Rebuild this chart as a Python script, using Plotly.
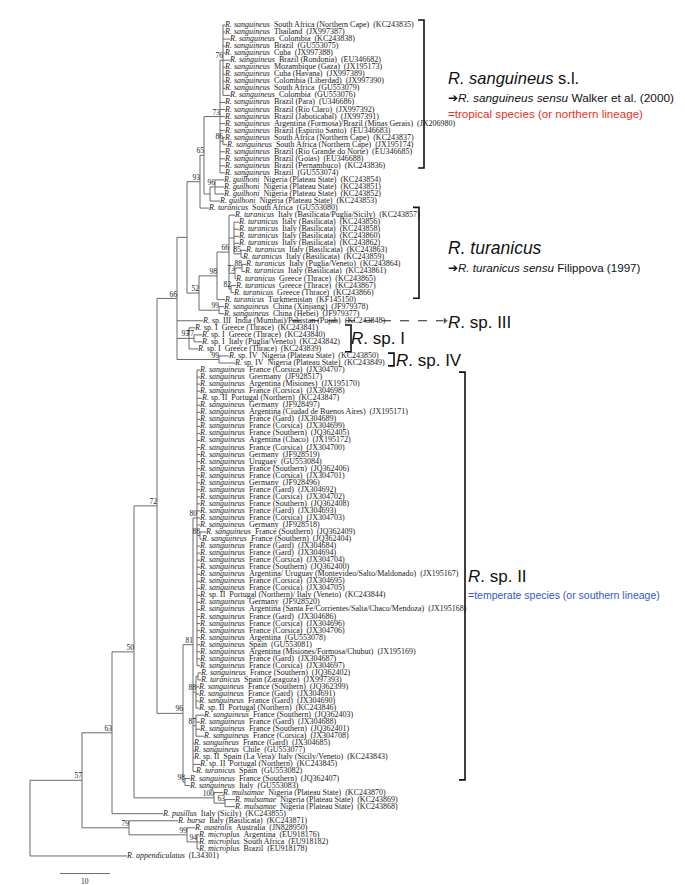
import plotly.graph_objects as go

# tree: leaf names are row numbers, internal labels are bootstrap values,
# branch lengths in substitutions units (scale bar = 10)
newick = """
((
 (
  (
   (
    (
     (
      (
       (
        ((1:0.4,2:0.4,3:1.4,4:0.4,5:0.4,6:1.4,7:0.4,8:0.4,9:0.4,10:0.4,11:1.4)76:0.6,
         12:1,13:1,14:1,15:1,16:1,(17:0.4,18:0.8)86:0.6,19:1,20:1,21:1,22:1)73:3.2,
        ((23:1.8,24:1.8,25:1.8)96:1,26:2):1.2
       )65:0.8,
       27:1.8
      )93:2.6,
      (
       (
        (28:1.2,(29:1,30:1,31:1,32:1,(33:1,34:0.4)85:1.4):1,((35:0.8,36:0.6)88:1.4,37:0.2)73:1.2,(38:1,39:0.6)82:0.4)66:2.4,
        40:1.6
       )98:3.6,
       (41:1,42:1)99:4
      )52:2.4
     ):2,
     43:5.2,
     (44:1.2,(45:1.6,46:1.6)77:1,47:1.8)93:2.4,
     (48:2,49:3.2)99:8.4
    )66:4,
    (
     (
      (50:0.6,51:0.6,52:0.6,53:0.6,54:1,55:0.6,56:0.6,57:0.6,58:0.6,59:0.6,60:0.6,61:0.6,62:0.6,
       63:0.6,64:0.6,65:0.6,66:0.6,67:0.6,68:0.6,69:0.6,70:0.6,71:0.6,72:0.6,(73:1.2,74:0.4)88:0.6,
       75:0.6,76:0.6,77:0.6,78:0.6,79:0.6,80:0.6,81:0.6,82:0.6,83:0.6,84:0.6,85:0.6,86:0.6,87:0.6,
       88:0.6,89:0.6,90:0.6,91:0.6,92:0.6)80:0.8,
      ((93:0.6,94:0.6):0.4,95:0.6,96:0.6,97:0.6,98:0.6)88:0.6,
      (99:1.6,100:0.8,101:0.8,102:1.6)87:0.6,
      103:0.2,104:0.2,105:0.2,106:1.4,107:0.6
     )81:2
    ,(108:1,109:1)98:0.4
    )96:5.2
   )72:4.6,
   (110:1.8,(111:2,112:2)63:2.2)100:16
  )50:4.4,
  113:10.2
 )63:6,
 (114:9.8,(115:1.6,(116:0.4,117:0.4,118:0.4)94:2)99:11.6)79:9.4
)57:10.4,
119:19.4):2.2,
120:45)
"""

species = (["R. sanguineus"] * 22 + ["R. guilhoni"] * 4 + ["R. turanicus"] * 14
           + ["R. sanguineus"] * 2 + ["R. sp. III"] + ["R. sp. I"] * 4 + ["R. sp. IV"] * 2
           + ["R. sanguineus"] * 4 + ["R. sp. II"] + ["R. sanguineus"] * 27 + ["R. sp. II"]
           + ["R. sanguineus"] * 11 + ["R. turanicus"] + ["R. sanguineus"] * 3 + ["R. sp. II"]
           + ["R. sanguineus"] * 6 + ["R. sp. II"] * 2 + ["R. turanicus"] + ["R. sanguineus"] * 2
           + ["R. mulsamae"] * 3 + ["R. pusillus", "R. bursa", "R. australis"]
           + ["R. microplus"] * 3 + ["R. appendiculatus", "I. ricinus"])

places = [
    "South Africa (Northern Cape)", "Thailand", "Colombia", "Brazil", "Cuba",
    "Brazil (Rondonia)", "Mozambique (Gaza)", "Cuba (Havana)", "Colombia (Liberdad)", "South Africa",
    "Colombia", "Brazil (Para)", "Brazil (Rio Claro)", "Brazil (Jaboticabal)",
    "Argentina (Formosa)/Brazil (Minas Gerais)", "Brazil (Espirito Santo)",
    "South Africa (Northern Cape)", "South Africa (Northern Cape)", "Brazil (Rio Grande do Norte)",
    "Brazil (Goias)", "Brazil (Pernambuco)", "Brazil",
    "Nigeria (Plateau State)", "Nigeria (Plateau State)", "Nigeria (Plateau State)", "Nigeria (Plateau State)",
    "South Africa", "Italy (Basilicata/Puglia/Sicily)", "Italy (Basilicata)", "Italy (Basilicata)",
    "Italy (Basilicata)", "Italy (Basilicata)", "Italy (Basilicata)", "Italy (Basilicata)",
    "Italy (Puglia/Veneto)", "Italy (Basilicata)", "Greece (Thrace)", "Greece (Thrace)", "Greece (Thrace)",
    "Turkmenistan", "China (Xinjiang)", "China (Hebei)", "India (Mumbai)/Pakistan (Pujab)",
    "Greece (Thrace)", "Greece (Thrace)", "Italy (Puglia/Veneto)", "Greece (Thrace)",
    "Nigeria (Plateau State)", "Nigeria (Plateau State)",
    "France (Corsica)", "Grermany", "Argentina (Misiones)", "France (Corsica)", "Portugal (Northern)",
    "Germany", "Argentina (Ciudad de Buenos Aires)", "France (Gard)", "France (Corsica)",
    "France (Southern)", "Argentina (Chaco)", "France (Corsica)", "Germany", "Uruguay",
    "France (Southern)", "France (Corsica)", "Germany", "France (Gard)", "France (Corsica)",
    "France (Southern)", "France (Gard)", "France (Corsica)", "Germany", "France (Southern)",
    "France (Southern)", "France (Gard)", "France (Gard)", "France (Corsica)", "France (Southern)",
    "Argentina/ Uruguay (Montevideo/Salto/Maldonado)", "France (Corsica)", "France (Corsica)",
    "Portugal (Northern)/ Italy (Veneto)", "Germany",
    "Argentina (Santa Fe/Corrientes/Salta/Chaco/Mendoza)", "France (Gard)", "France (Corsica)",
    "France (Corsica)", "Argentina", "Spain", "Argentina (Misiones/Formosa/Chubut)", "France (Gard)",
    "France (Corsica)", "France (Southern)", "Spain (Zaragoza)", "France (Southern)", "France (Gard)",
    "France (Gard)", "Portugal (Northern)", "France (Southern)", "France (Gard)", "France (Southern)",
    "France (Corsica)", "France (Gard)", "Chile", "Spain (La Vera)/ Italy (Sicily/Veneto)",
    "Portugal (Northern)", "Spain", "France (Southern)", "Italy",
    "Nigeria (Plateau State)", "Nigeria (Plateau State)", "Nigeria (Plateau State)",
    "Italy (Sicily)", "Italy (Basilicata)", "Australia", "Argentina", "South Africa", "Brazil",
    "", "Germany",
]

accessions = [
    "KC243835", "JX997387", "KC243838", "GU553075", "JX997388", "EU346682", "JX195173", "JX997389",
    "JX997390", "GU553079", "GU553076", "U346686", "JX997392", "JX997391", "JX206980", "EU346683",
    "KC243837", "JX195174", "EU346685", "EU346688", "KC243836", "GU553074",
    "KC243854", "KC243851", "KC243852", "KC243853", "GU553080", "KC243857", "KC243856", "KC243858",
    "KC243860", "KC243862", "KC243863", "KC243859", "KC243864", "KC243861", "KC243865", "KC243867",
    "KC243866", "KF145150", "JF979378", "JF979377", "KC243848", "KC243841", "KC243840", "KC243842",
    "KC243839", "KC243850", "KC243849",
    "JX304707", "JF928517", "JX195170", "JX304698", "KC243847", "JF928497", "JX195171", "JX304689",
    "JX304699", "JQ362405", "JX195172", "JX304700", "JF928519", "GU553084", "JQ362406", "JX304701",
    "JF928496", "JX304692", "JX304702", "JQ362408", "JX304693", "JX304703", "JF928518", "JQ362409",
    "JQ362404", "JX304684", "JX304694", "JX304704", "JQ362400", "JX195167", "JX304695", "JX304705",
    "KC243844", "JF928520", "JX195168", "JX304686", "JX304696", "JX304706", "GU553078", "GU553081",
    "JX195169", "JX304687", "JX304697", "JQ362402", "JX997393", "JQ362399", "JX304691", "JX304690",
    "KC243846", "JQ362403", "JX304688", "JQ362401", "JX304708", "JX304685", "GU553077", "KC243843",
    "KC243845", "GU553082", "JQ362407", "GU553083", "KC243870", "KC243869", "KC243868", "KC243855",
    "KC243871", "JN828950", "EU918176", "EU918182", "EU918178", "L34301", "JF928527",
]

scale_len = 10

sp = "\u00a0\u00a0"


def parse(s):
    s = "".join(s.split())
    pos = 0

    def node():
        nonlocal pos
        children = []
        if s[pos] == "(":
            pos += 1
            while True:
                children.append(node())
                if s[pos] == ",":
                    pos += 1
                    continue
                pos += 1
                break
        start = pos
        while pos < len(s) and s[pos] not in ",():;":
            pos += 1
        label = s[start:pos]
        bl = 0.0
        if pos < len(s) and s[pos] == ":":
            pos += 1
            start = pos
            while pos < len(s) and s[pos] not in ",();":
                pos += 1
            bl = float(s[start:pos])
        return {"label": label, "bl": bl, "children": children}

    return node()


def place(n, x0):
    n["x"] = x0 + n["bl"]
    if not n["children"]:
        n["y"] = int(n["label"])
    else:
        for c in n["children"]:
            place(c, n["x"])
        n["y"] = (n["children"][0]["y"] + n["children"][-1]["y"]) / 2


tree = parse(newick)
tree["bl"] = 0
place(tree, 0)

lx, ly = [], []
tips, boots = [], []


def walk(n):
    if not n["children"]:
        tips.append(n)
        return
    ys = [c["y"] for c in n["children"]]
    lx.extend([n["x"], n["x"], None])
    ly.extend([min(ys), max(ys), None])
    if n["label"]:
        boots.append(n)
    for c in n["children"]:
        lx.extend([n["x"], c["x"], None])
        ly.extend([c["y"], c["y"], None])
        walk(c)


walk(tree)


def leaf_text(i):
    genus, epi = species[i].split(" ", 1)
    if epi.startswith("sp."):
        name = "<i>" + genus + "</i> " + epi
    else:
        name = "<i>" + species[i] + "</i>"
    parts = [name]
    if places[i]:
        parts.append(places[i])
    parts.append("(" + accessions[i] + ")")
    return sp.join(parts)


fig = go.Figure()
fig.add_trace(go.Scatter(x=lx, y=ly, mode="lines", line=dict(color="#6a6a6a", width=1),
                         hoverinfo="skip"))
fig.add_trace(go.Scatter(
    x=[t["x"] for t in tips], y=[t["y"] for t in tips], mode="text",
    text=[leaf_text(int(t["label"]) - 1) for t in tips], textposition="middle right",
    textfont=dict(family="Liberation Serif", size=8, color="#1a1a1a"), hoverinfo="skip"))
fig.add_trace(go.Scatter(
    x=[b["x"] for b in boots], y=[b["y"] for b in boots], mode="text",
    text=[b["label"] for b in boots], textposition="top left",
    textfont=dict(family="Liberation Serif", size=7.5, color="#1a1a1a"), hoverinfo="skip"))

# scale bar
fig.add_trace(go.Scatter(x=[6, 6 + scale_len], y=[121.5, 121.5], mode="lines",
                         line=dict(color="#6a6a6a", width=1), hoverinfo="skip"))
fig.add_annotation(x=6 + scale_len / 2, y=122.6, text=str(scale_len), showarrow=False,
                   font=dict(family="Liberation Serif", size=7.5, color="#1a1a1a"))

# dashed arrow to R. sp. III
fig.add_trace(go.Scatter(x=[52.4, 83.0], y=[43, 43], mode="lines+markers",
                         line=dict(color="#222", width=1.2, dash="dash"),
                         marker=dict(symbol=["line-ns", "triangle-right"], size=[0, 7], color="#222"),
                         hoverinfo="skip"))

# clade brackets: (top row, bottom row, x)
brackets = [(0.3, 21.3, 78.8), (26.9, 39.8, 77.8), (43.6, 47.4, 64.2), (47.6, 49.4, 72.8),
            (50.3, 108.2, 87.0)]
for y0, y1, xb in brackets:
    fig.add_shape(type="path", xref="x", yref="y",
                  path=f"M {xb - 1.2},{y0} L {xb},{y0} L {xb},{y1} L {xb - 1.2},{y1}",
                  line=dict(color="#111", width=1.6))

sans = "Liberation Sans"
notes = [
    (438, 70, "<i>R. sanguineus</i> s.l.", 16.5, "#111"),
    (438, 90, "\u2794<i>R. sanguineus sensu</i> Walker et al. (2000)", 11.8, "#111"),
    (438, 106, "=tropical species (or northern lineage)", 11.6, "#e8302a"),
    (438, 240, "<i>R. turanicus</i>", 17.5, "#111"),
    (438, 260, "\u2794<i>R. turanicus sensu</i> Filippova (1997)", 11.6, "#111"),
    (438, 314, "<i>R</i>. sp. III", 17, "#111"),
    (341, 331, "<i>R</i>. sp. I", 17, "#111"),
    (386, 352, "<i>R</i>. sp. IV", 17, "#111"),
    (458, 568, "<i>R</i>. sp. II", 17, "#111"),
    (458, 587, "=temperate species (or southern lineage)", 10.5, "#3556c8"),
]
for px, py, txt, size, col in notes:
    fig.add_annotation(x=px / 685, y=1 - py / 885, xref="paper", yref="paper", text=txt,
                       showarrow=False, xanchor="left", yanchor="middle",
                       font=dict(family=sans, size=size, color=col))

fig.update_layout(
    width=685, height=885, showlegend=False,
    plot_bgcolor="white", paper_bgcolor="white",
    margin=dict(l=0, r=0, t=0, b=0),
    xaxis=dict(range=[-4.4, 132.6], visible=False),
    yaxis=dict(range=[124.26, -1.414], visible=False),
)

fig.write_html("out.html")
